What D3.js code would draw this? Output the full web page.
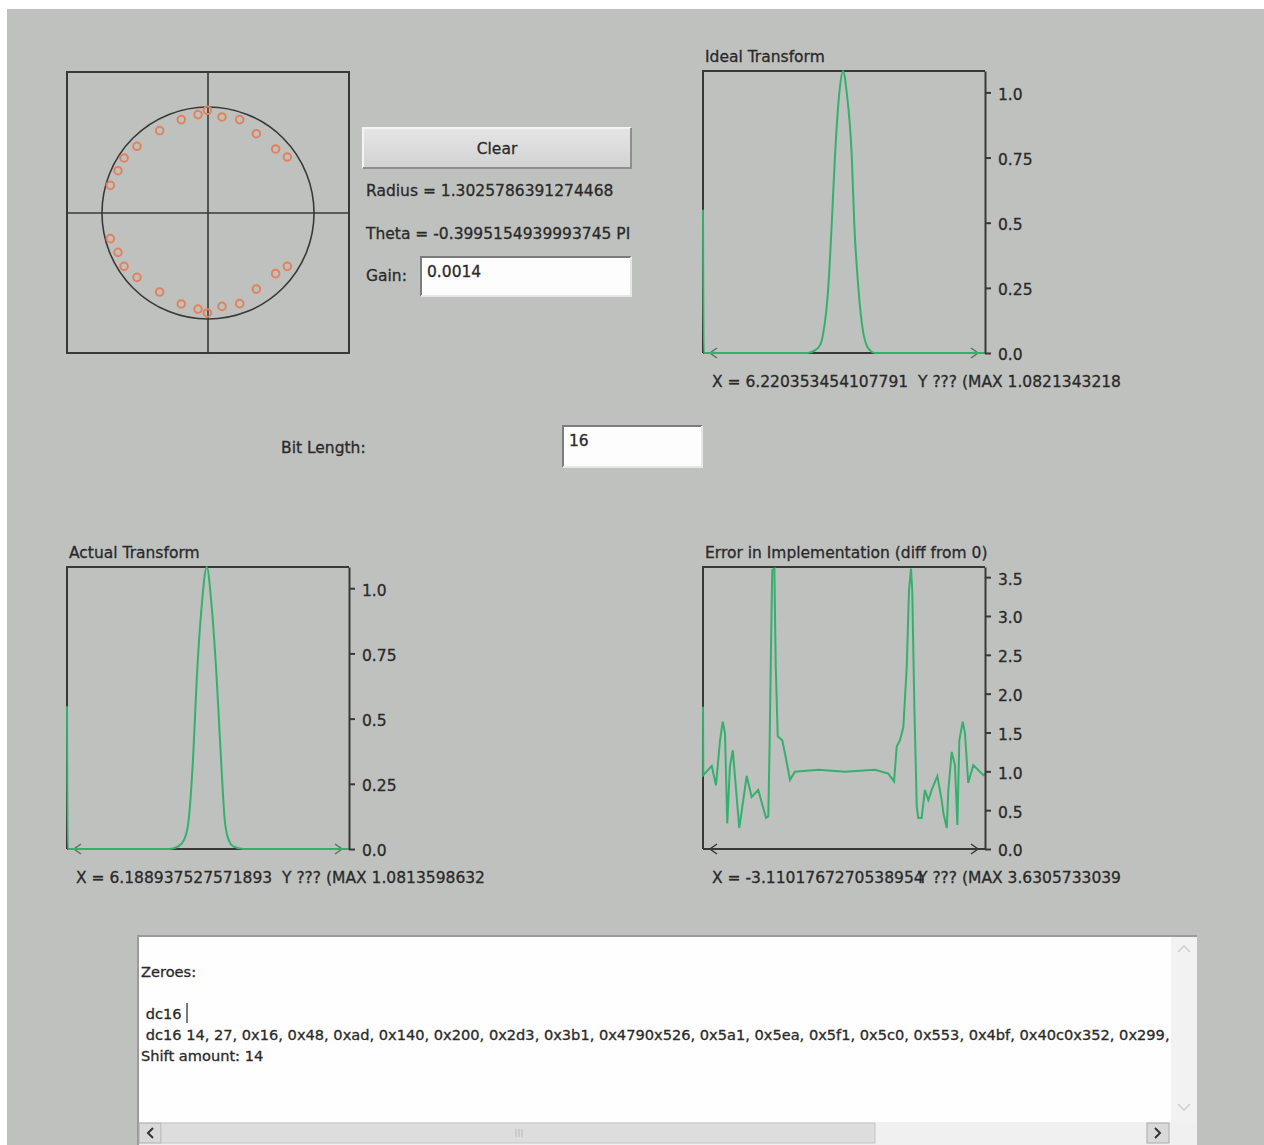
<!DOCTYPE html>
<html lang="en">
<head>
<meta charset="UTF-8">
<script src="https://d3js.org/d3.v7.min.js"></script>
<style>
  body { margin: 0; background: #fff; }
  text { font-family: "DejaVu Sans", sans-serif; font-size: 15.5px; fill: #2a2a2a; stroke: #2a2a2a; stroke-width: 0.3px; }
  .small text { font-size: 14.6px; }
</style>
</head>
<body>
<script>
// zeros of the filter, unit circle plane
const zeroRe = [-0.006, -0.094, -0.252, -0.456, -0.670, -0.792, -0.849, -0.921, 0.132, 0.299, 0.456, 0.638, 0.748,
                -0.921, -0.849, -0.792, -0.670, -0.456, -0.252, -0.094, -0.006, 0.132, 0.299, 0.456, 0.638, 0.748];
const zeroIm = [0.969, 0.928, 0.881, 0.777, 0.629, 0.519, 0.399, 0.261, 0.906, 0.881, 0.748, 0.604, 0.528,
                -0.242, -0.371, -0.503, -0.607, -0.745, -0.858, -0.906, -0.943, -0.881, -0.855, -0.717, -0.572, -0.503];

// frequency in units of PI
const idealFreq = [-1, -0.995, -0.26, -0.206, -0.17, -0.147, -0.111, -0.087, -0.064, -0.033, -0.007, 0.019, 0.055, 0.073, 0.101, 0.137, 0.16, 0.184, 0.22, 1];
const idealMag  = [0.55, 0, 0, 0.01, 0.03, 0.076, 0.255, 0.495, 0.755, 0.999, 1.0821, 1.0, 0.755, 0.495, 0.255, 0.076, 0.03, 0.01, 0, 0];

const actualFreq = [-1, -0.995, -0.27, -0.211, -0.17, -0.140, -0.104, -0.080, -0.045, -0.009, 0.026, 0.062, 0.090, 0.121, 0.15, 0.179, 0.25, 1];
const actualMag  = [0.547, 0, 0, 0.01, 0.035, 0.099, 0.368, 0.65, 0.93, 1.0814, 0.93, 0.65, 0.368, 0.099, 0.03, 0.01, 0, 0];

const errorFreq = [-1, -0.998, -0.938, -0.908, -0.879, -0.860, -0.844, -0.828, -0.809, -0.789, -0.773, -0.743, -0.690, -0.655, -0.608, -0.553, -0.537,
                   -0.527, -0.518, -0.509, -0.494, -0.484, -0.470, -0.438, -0.414, -0.383, -0.348, -0.182, 0.007, 0.220, 0.314, 0.355,
                   0.374, 0.397, 0.421, 0.445, 0.461, 0.475, 0.484, 0.499, 0.516, 0.527, 0.551, 0.574, 0.598, 0.622, 0.662, 0.693,
                   0.705, 0.729, 0.740, 0.764, 0.787, 0.804, 0.818, 0.842, 0.858, 0.881, 0.917, 0.988, 1];
const errorMag  = [1.83, 0.95, 1.07, 0.82, 1.40, 1.64, 1.49, 0.33, 1.06, 1.27, 0.93, 0.27, 0.94, 0.67, 0.76, 0.40, 0.42,
                   1.40, 2.56, 3.59, 3.61, 2.35, 1.45, 1.40, 1.19, 0.89, 0.995, 1.02, 0.995, 1.02, 0.97, 0.87,
                   1.32, 1.40, 1.57, 2.35, 3.33, 3.61, 3.33, 1.83, 0.54, 0.40, 0.40, 0.76, 0.63, 0.76, 0.94, 0.63,
                   0.46, 0.27, 0.76, 1.25, 1.08, 0.31, 1.40, 1.64, 1.49, 0.85, 1.08, 0.95, 0.97];

const transformTicks = [0, 0.25, 0.5, 0.75, 1.0];
const transformTickLabels = ["0.0", "0.25", "0.5", "0.75", "1.0"];
const errorTicks = [0, 0.5, 1.0, 1.5, 2.0, 2.5, 3.0, 3.5];
const errorTickLabels = ["0.0", "0.5", "1.0", "1.5", "2.0", "2.5", "3.0", "3.5"];

const zeroLines = [
  "Zeroes:",
  "",
  " dc16",
  " dc16 14, 27, 0x16, 0x48, 0xad, 0x140, 0x200, 0x2d3, 0x3b1, 0x4790x526, 0x5a1, 0x5ea, 0x5f1, 0x5c0, 0x553, 0x4bf, 0x40c0x352, 0x299, 0x1f4",
  "Shift amount: 14"
];

const dark = "#383838";
const green = "#34b06c";
const size = 282;

const svg = d3.select("body").append("svg")
    .attr("width", 1264)
    .attr("height", 1145);

// panel background
svg.append("rect")
    .attr("x", 7).attr("y", 9)
    .attr("width", 1257).attr("height", 1136)
    .attr("fill", "#bfc1bf");

// ---- pole / zero plot ----
const pz = svg.append("g").attr("transform", "translate(67,72)");
const zx = d3.scaleLinear().domain([-1.33, 1.33]).range([0, size]);
const zy = d3.scaleLinear().domain([-1.33, 1.33]).range([size, 0]);

pz.append("rect")
    .attr("width", size).attr("height", size - 1)
    .attr("fill", "none").attr("stroke", dark).attr("stroke-width", 2);
pz.append("line")
    .attr("x1", zx(0)).attr("x2", zx(0)).attr("y1", 0).attr("y2", size - 1)
    .attr("stroke", dark).attr("stroke-width", 1.6);
pz.append("line")
    .attr("x1", 0).attr("x2", size).attr("y1", zy(0)).attr("y2", zy(0))
    .attr("stroke", dark).attr("stroke-width", 1.6);
pz.append("circle")
    .attr("cx", zx(0)).attr("cy", zy(0)).attr("r", zx(1) - zx(0))
    .attr("fill", "none").attr("stroke", dark).attr("stroke-width", 1.6);

pz.selectAll("circle.zero")
    .data(zeroRe.map((d, i) => [d, zeroIm[i]]))
    .enter().append("circle")
    .attr("class", "zero")
    .attr("cx", d => zx(d[0]))
    .attr("cy", d => zy(d[1]))
    .attr("r", 3.8)
    .attr("fill", "none")
    .attr("stroke", "#e2825c")
    .attr("stroke-width", 2);

// ---- controls ----
function sunkenField(x, y, w, h, value) {
    svg.append("rect").attr("x", x).attr("y", y).attr("width", w).attr("height", h).attr("fill", "#fdfdfd");
    svg.append("path").attr("d", `M${x},${y + h}V${y}H${x + w}`)
        .attr("fill", "none").attr("stroke", "#7c7c7c").attr("stroke-width", 2);
    svg.append("path").attr("d", `M${x},${y + h}H${x + w}V${y}`)
        .attr("fill", "none").attr("stroke", "#e6e6e6").attr("stroke-width", 2);
    svg.append("text").attr("x", x + 6).attr("y", y + 20).text(value);
}

const grad = svg.append("defs").append("linearGradient")
    .attr("id", "btn").attr("x1", 0).attr("y1", 0).attr("x2", 0).attr("y2", 1);
grad.append("stop").attr("offset", "0%").attr("stop-color", "#e6e6e6");
grad.append("stop").attr("offset", "100%").attr("stop-color", "#d2d2d2");

svg.append("rect").attr("x", 363).attr("y", 128).attr("width", 268).attr("height", 40)
    .attr("fill", "url(#btn)");
svg.append("path").attr("d", "M363,168V128H631").attr("fill", "none").attr("stroke", "#f4f4f4").attr("stroke-width", 2);
svg.append("path").attr("d", "M363,168H631V128").attr("fill", "none").attr("stroke", "#8e8e8e").attr("stroke-width", 2);
svg.append("text").attr("x", 497).attr("y", 154).attr("text-anchor", "middle").text("Clear");

svg.append("text").attr("x", 366).attr("y", 196).text("Radius = 1.3025786391274468");
svg.append("text").attr("x", 366).attr("y", 239).text("Theta = -0.3995154939993745 PI");
svg.append("text").attr("x", 366).attr("y", 281).text("Gain:");
sunkenField(421, 257, 210, 39, "0.0014");

svg.append("text").attr("x", 281).attr("y", 453).text("Bit Length:");
sunkenField(563, 426, 139, 41, "16");

// ---- magnitude plots ----
function drawPlot(ox, oy, title, freq, mag, maxVal, ticks, tickLabels, curve, xText, yText, greenBase) {
    const g = svg.append("g").attr("transform", `translate(${ox},${oy})`);
    const x = d3.scaleLinear().domain([-1, 1]).range([0, size]);
    const y = d3.scaleLinear().domain([0, maxVal]).range([size, 0]);

    g.append("text").attr("x", 2).attr("y", -9).text(title);

    g.append("path").attr("d", `M0,${size}V0H${size}`)
        .attr("fill", "none").attr("stroke", dark).attr("stroke-width", 2);
    g.append("line").attr("x1", 0).attr("x2", size).attr("y1", size).attr("y2", size)
        .attr("stroke", dark).attr("stroke-width", 2);

    const arrowCol = greenBase ? "#4a7a5c" : dark;
    g.append("path").attr("d", `M14,${size - 5}L7,${size}L14,${size + 5}`)
        .attr("fill", "none").attr("stroke", arrowCol).attr("stroke-width", 1.5);
    g.append("path").attr("d", `M${size - 14},${size - 5}L${size - 7},${size}L${size - 14},${size + 5}`)
        .attr("fill", "none").attr("stroke", arrowCol).attr("stroke-width", 1.5);

    const line = d3.line()
        .x(d => x(d[0]))
        .y(d => y(d[1]))
        .curve(curve);
    g.append("path")
        .datum(freq.map((d, i) => [d, mag[i]]))
        .attr("d", line)
        .attr("fill", "none")
        .attr("stroke", green)
        .attr("stroke-width", 2);

    const axis = g.append("g")
        .attr("transform", `translate(${size},0)`)
        .call(d3.axisRight(y).tickValues(ticks).tickSize(6).tickSizeOuter(0).tickPadding(7)
            .tickFormat((d, i) => tickLabels[i]));
    axis.attr("color", dark);
    axis.select(".domain").attr("stroke-width", 2);
    axis.selectAll(".tick line").attr("stroke-width", 2);
    axis.selectAll(".tick text").attr("dy", "0.45em");

    g.append("text").attr("x", 9).attr("y", size + 34).text(xText);
    g.append("text").attr("x", 215).attr("y", size + 34).text(yText);
}

drawPlot(703, 71, "Ideal Transform", idealFreq, idealMag, 1.0821,
    transformTicks, transformTickLabels, d3.curveMonotoneX,
    "X = 6.220353454107791", "Y ??? (MAX 1.0821343218", true);
drawPlot(67, 567, "Actual Transform", actualFreq, actualMag, 1.0814,
    transformTicks, transformTickLabels, d3.curveMonotoneX,
    "X = 6.188937527571893", "Y ??? (MAX 1.0813598632", true);
drawPlot(703, 567, "Error in Implementation (diff from 0)", errorFreq, errorMag, 3.6306,
    errorTicks, errorTickLabels, d3.curveLinear,
    "X = -3.1101767270538954", "Y ??? (MAX 3.6305733039", false);

// ---- text area with scroll bars ----
svg.append("clipPath").attr("id", "ta")
    .append("rect").attr("x", 139).attr("y", 937).attr("width", 1032).attr("height", 184);
svg.append("rect").attr("x", 138).attr("y", 936).attr("width", 1059).attr("height", 209).attr("fill", "#fefefe");
svg.append("path").attr("d", "M138,1145V936H1197").attr("fill", "none").attr("stroke", "#9a9a9a").attr("stroke-width", 2);

const ta = svg.append("g").attr("clip-path", "url(#ta)").attr("class", "small");
ta.selectAll("text")
    .data(zeroLines)
    .enter().append("text")
    .attr("x", 141)
    .attr("y", (d, i) => 977 + i * 21)
    .attr("xml:space", "preserve")
    .style("white-space", "pre")
    .text(d => d);
svg.append("line").attr("x1", 187).attr("x2", 187).attr("y1", 1003).attr("y2", 1023)
    .attr("stroke", "#222").attr("stroke-width", 1.2);

// vertical scroll bar
svg.append("rect").attr("x", 1171).attr("y", 937).attr("width", 26).attr("height", 185).attr("fill", "#f1f2f1");
svg.append("path").attr("d", "M1178,952L1184,946L1190,952").attr("fill", "none").attr("stroke", "#cfcfcf").attr("stroke-width", 1.5);
svg.append("path").attr("d", "M1178,1104L1184,1110L1190,1104").attr("fill", "none").attr("stroke", "#cfcfcf").attr("stroke-width", 1.5);
// horizontal scroll bar
svg.append("rect").attr("x", 139).attr("y", 1122).attr("width", 1058).attr("height", 23).attr("fill", "#f0f0f0");
svg.append("rect").attr("x", 139).attr("y", 1123).attr("width", 22).attr("height", 20).attr("fill", "#d9d9d9").attr("stroke", "#aaa");
svg.append("rect").attr("x", 161).attr("y", 1123).attr("width", 714).attr("height", 20).attr("fill", "#dcdddc").attr("stroke", "#c4c4c4");
svg.append("rect").attr("x", 1147).attr("y", 1123).attr("width", 22).attr("height", 20).attr("fill", "#d9d9d9").attr("stroke", "#aaa");
svg.append("path").attr("d", "M153,1128L148,1133L153,1138").attr("fill", "none").attr("stroke", "#333").attr("stroke-width", 2);
svg.append("path").attr("d", "M1155,1128L1160,1133L1155,1138").attr("fill", "none").attr("stroke", "#333").attr("stroke-width", 2);
[516, 519, 522].forEach(gx => {
    svg.append("line").attr("x1", gx).attr("x2", gx).attr("y1", 1129).attr("y2", 1137)
        .attr("stroke", "#b8b8b8").attr("stroke-width", 1);
});
</script>
</body>
</html>
